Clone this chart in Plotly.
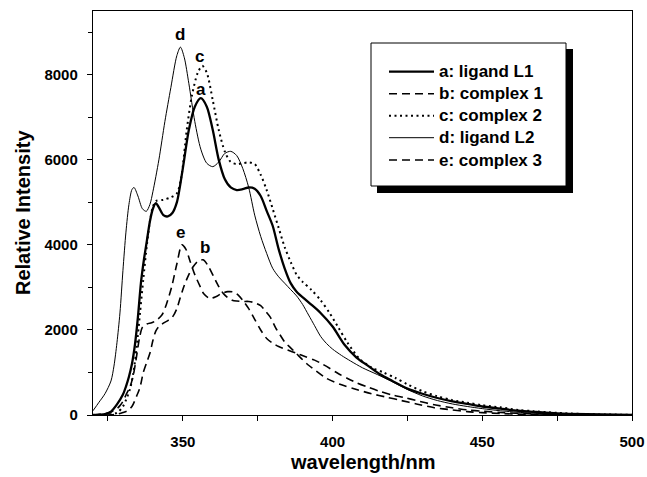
import plotly.graph_objects as go

# ---------------- data ----------------
wl_a = [320, 324, 326, 328, 330, 331, 332, 333, 334, 335, 336, 337, 338, 339, 340, 341, 342, 343.5, 345,
        346.5, 348, 350, 352, 354, 356, 358, 360, 362, 364, 366, 368, 370, 372, 374, 376, 378, 380, 382,
        384, 386, 388, 392, 396, 400, 404, 408, 412, 416, 420, 425, 430, 435, 440, 445, 450, 456, 462,
        468, 475, 485, 500]
int_a = [0, 20, 80, 250, 480, 670, 900, 1200, 1650, 2300, 3100, 3650, 4100, 4550, 4850, 4980, 4880, 4700,
         4670, 4750, 5000, 5800, 6700, 7250, 7450, 7250, 6700, 6000, 5550, 5350, 5290, 5310, 5350, 5320,
         5150, 4800, 4450, 3900, 3450, 3100, 2900, 2650, 2400, 2080, 1650, 1350, 1150, 950, 800, 620, 500,
         400, 320, 260, 200, 150, 100, 70, 40, 20, 5]

wl_b = [320, 326, 328, 330, 331.5, 333, 334.6, 335.7, 336.8, 338, 339, 340, 341, 342, 343.5, 345, 346.5,
        348, 349.1, 350.5, 352, 353.5, 355, 356.8, 358.5, 360.2, 362, 363.5, 365, 366.5, 368, 370, 372,
        374, 376, 377.5, 379.2, 381, 382.5, 384, 386, 388, 390, 392, 394, 398, 403, 408, 413, 418, 423,
        428, 434, 440, 445, 450, 456, 465, 480, 500]
int_b = [0, 5, 20, 60, 100, 200, 450, 650, 1000, 1250, 1450, 1750, 1980, 2080, 2160, 2220, 2300, 2500,
         2750, 3050, 3300, 3490, 3610, 3650, 3500, 3270, 3020, 2860, 2760, 2700, 2680, 2670, 2670, 2640,
         2570, 2450, 2300, 2050, 1880, 1720, 1580, 1440, 1300, 1170, 1060, 860, 710, 600, 500, 420, 340,
         260, 170, 120, 80, 55, 35, 15, 5, 0]

wl_c = [320, 326, 328, 330, 331, 332.4, 333.5, 334.6, 335.7, 336.8, 338, 339, 340, 341, 343.5, 346, 348,
        349.5, 351.3, 353, 355, 356.5, 358, 360, 362, 364, 366, 368, 370, 372, 374, 376, 378, 380, 382,
        384, 386, 388, 390, 393, 396, 399, 402, 405, 409, 413, 417, 421, 425, 430, 435, 440, 445, 450,
        456, 462, 467, 475, 485, 500]
int_c = [0, 20, 50, 200, 350, 620, 1000, 1610, 2400, 3200, 4000, 4550, 4900, 5030, 5060, 5120, 5210,
         5600, 6700, 7500, 8050, 8210, 8050, 7400, 6700, 6200, 5950, 5900, 5920, 5940, 5900, 5650, 5290,
         4850, 4400, 3950, 3600, 3300, 3130, 2940, 2700, 2400, 2050, 1700, 1320, 1120, 1000, 870, 720,
         560, 440, 350, 290, 230, 180, 120, 90, 50, 20, 5]

wl_d = [320, 322, 324, 326, 327, 328, 329, 330, 331, 332, 333, 333.7, 335, 336.5, 337.8, 339, 340, 342,
        344, 346, 348, 349.2, 350.5, 352, 354, 356, 358, 360, 362, 364, 366, 368, 370, 372, 374, 376, 378,
        380, 382, 384, 386, 388, 390, 392, 394, 396, 398, 400, 403, 406, 410, 415, 420, 425, 430, 435,
        440, 445, 450, 456, 465, 475, 490, 500]
int_d = [100, 300, 500, 800, 1150, 1700, 2400, 3400, 4300, 4950, 5300, 5350, 5150, 4850, 4790, 4950,
         5250, 6000, 6900, 7700, 8450, 8650, 8400, 7800, 6900, 6250, 5920, 5840, 5950, 6150, 6200, 6100,
         5800, 5350, 4700, 4200, 3800, 3450, 3250, 3100, 2950, 2800, 2600, 2350, 2100, 1850, 1680, 1550,
         1400, 1270, 1110, 950, 780, 600, 450, 340, 260, 200, 150, 100, 50, 20, 5, 0]

wl_e = [320, 324, 326, 328, 329, 330, 331, 332.4, 333.5, 334.6, 335.5, 336.5, 338, 339.6, 341, 343,
        344.5, 346.3, 348, 349.7, 351, 352.5, 354, 355.8, 357, 359, 361, 363, 365, 367, 368.5, 370, 372,
        374, 376, 378, 380, 382, 385, 388, 391, 394, 396, 399, 402, 405, 408, 412, 416, 420, 424, 428,
        434, 440, 445, 450, 456, 465, 480, 500]
int_e = [0, 30, 70, 150, 220, 320, 470, 670, 950, 1400, 1800, 2060, 2140, 2170, 2220, 2350, 2600, 3020,
         3550, 4000, 3900, 3600, 3300, 3020, 2850, 2740, 2780, 2860, 2900, 2890, 2820, 2700, 2500, 2250,
         2000, 1800, 1690, 1610, 1530, 1450, 1370, 1290, 1220, 1100, 970, 860, 760, 650, 550, 470, 410,
         340, 240, 170, 120, 90, 60, 30, 10, 0]

legend_labels = ["a: ligand L1", "b: complex 1", "c: complex 2", "d: ligand L2", "e: complex 3"]
peak_letters = ["a", "b", "c", "d", "e"]
peak_pos_x = [355.9, 357.3, 355.4, 349.1, 349.2]
peak_pos_y = [7655, 3937, 8431, 8941, 4298]

x_range = [320, 500]
y_range = [0, 9500]

# ---------------- styles ----------------
styles = {
    "a": dict(color="black", width=2.3, dash="solid"),
    "b": dict(color="black", width=1.6, dash="8px,5px"),
    "c": dict(color="black", width=2.0, dash="2px,3.5px"),
    "d": dict(color="black", width=1.0, dash="solid"),
    "e": dict(color="black", width=1.6, dash="8px,5px"),
}
series = [("a", wl_a, int_a), ("b", wl_b, int_b), ("c", wl_c, int_c), ("d", wl_d, int_d), ("e", wl_e, int_e)]

FONT = "Liberation Sans"

fig = go.Figure()
for (key, xs, ys), lab in zip(series, legend_labels):
    fig.add_trace(go.Scatter(x=xs, y=ys, mode="lines", name=lab,
                             line=dict(shape="spline", smoothing=0.8, **styles[key]),
                             showlegend=False))

# plot area geometry in pixels
W, H = 647, 477
L, R, T, B = 93, 15, 11, 62
PW, PH = W - L - R, H - T - B


def fx(px):
    return (px - L) / PW


def fy(py):
    return (H - B - py) / PH


axis_common = dict(showline=True, linecolor="black", linewidth=1.4, mirror=True, showgrid=False,
                   zeroline=False, ticks="outside", ticklen=5, tickwidth=1.4, tickcolor="black",
                   automargin=False,
                   tickfont=dict(family=FONT, size=15, color="black", weight="bold"))

fig.update_xaxes(range=x_range, tick0=300, dtick=50, ticklabelstandoff=8,
                 minor=dict(dtick=25, ticks="outside", ticklen=5, tickwidth=1.2, tickcolor="black"),
                 **axis_common)
fig.update_yaxes(range=y_range, tick0=0, dtick=2000, ticklabelstandoff=6,
                 minor=dict(dtick=1000, ticks="outside", ticklen=4, tickwidth=1.2, tickcolor="black"),
                 **axis_common)

annotations = []
# peak labels
for t, px_, py_ in zip(peak_letters, peak_pos_x, peak_pos_y):
    annotations.append(dict(x=px_, y=py_, xref="x", yref="y", text=t, showarrow=False,
                            font=dict(family=FONT, size=17, color="black", weight="bold")))
# axis titles
annotations.append(dict(x=0.5, y=fy(462), xref="paper", yref="paper", text="wavelength/nm",
                        showarrow=False, xanchor="center", yanchor="middle",
                        font=dict(family=FONT, size=20, color="black", weight="bold")))
annotations.append(dict(x=fx(23), y=fy(213), xref="paper", yref="paper", text="Relative Intensity",
                        showarrow=False, textangle=-90, xanchor="center", yanchor="middle",
                        font=dict(family=FONT, size=20, color="black", weight="bold")))

# manual legend with drop shadow
shapes = [
    dict(type="rect", xref="paper", yref="paper", x0=fx(377), x1=fx(573), y0=fy(49), y1=fy(193),
         fillcolor="black", line=dict(width=0), layer="above"),
    dict(type="rect", xref="paper", yref="paper", x0=fx(371), x1=fx(566), y0=fy(43), y1=fy(186),
         fillcolor="white", line=dict(color="black", width=1), layer="above"),
]
row_y = [71.7, 93.7, 115.7, 137.7, 160]
for (key, _, _), lab, ry in zip(series, legend_labels, row_y):
    st = styles[key]
    shapes.append(dict(type="line", xref="paper", yref="paper", x0=fx(389), x1=fx(434), y0=fy(ry), y1=fy(ry),
                       line=dict(color="black", width=st["width"], dash=st["dash"]), layer="above"))
    annotations.append(dict(x=fx(437), y=fy(ry), xref="paper", yref="paper", text=lab, showarrow=False,
                            xanchor="left", yanchor="middle",
                            font=dict(family=FONT, size=17, color="black", weight="bold")))

fig.update_layout(width=W, height=H, autosize=False,
                  margin=dict(l=L, r=R, t=T, b=B, pad=0, autoexpand=False),
                  plot_bgcolor="white", paper_bgcolor="white", showlegend=False,
                  annotations=annotations, shapes=shapes)

fig.write_html("out.html",
               config={"displayModeBar": False, "responsive": False},
               post_script="document.body.style.margin='0';")
